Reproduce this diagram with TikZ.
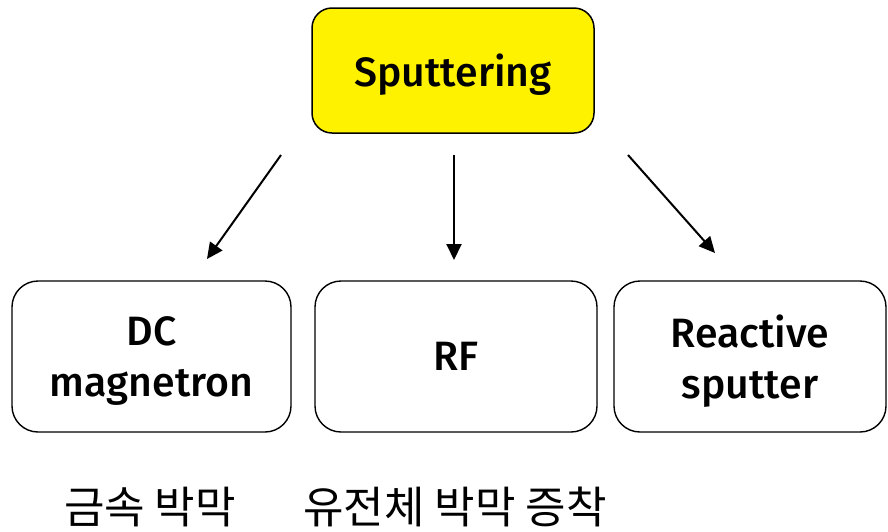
\documentclass[tikz,border=0pt]{standalone}
\usepackage{fontspec}
\setmainfont{Fira Sans}[UprightFont={* Medium}]
\newfontfamily\krfont{Noto Sans CJK KR}
\usetikzlibrary{arrows.meta}
\begin{document}
\begin{tikzpicture}[x=1pt,y=-1pt,
  topbox/.style={draw=black,line width=1.5pt,fill=yellow,rounded corners=20pt,
    minimum width=282pt,minimum height=125pt,inner sep=0pt,text depth=0pt,
    font=\fontsize{41}{48}\selectfont},
  kindbox/.style={draw=black,line width=1.4pt,fill=white,rounded corners=26pt,
    minimum height=151pt,inner sep=0pt,align=center,text depth=0pt,
    font=\fontsize{41}{51}\selectfont},
  usage/.style={font=\krfont\fontsize{44}{48}\selectfont,inner sep=0pt},
  link/.style={line width=2pt,-{Triangle[length=16pt,width=15pt]}}]
\useasboundingbox (0,0) rectangle (888,531);
% the method and its three kinds
\node[topbox] (sput) at (453,70.5) {Sputtering};
\node[kindbox,minimum width=279pt] (dc) at (151.5,356.5) {DC\\magnetron};
\node[kindbox,minimum width=282pt] (rf) at (456,356.5) {RF};
\node[kindbox,minimum width=272pt] (rs) at (750,356.5) {Reactive\\sputter};
% arrow ends, kept clear of the boxes
\coordinate (l0) at (281,155);
\coordinate (l1) at (207,259);
\coordinate (m0) at (454,155);
\coordinate (m1) at (454,260);
\coordinate (r0) at (628,155);
\coordinate (r1) at (715,253);
\draw[link] (l0) -- (l1);
\draw[link] (m0) -- (m1);
\draw[link] (r0) -- (r1);
% uses
\node[usage] (metal) at (150,507) {금속 박막};
\node[usage] (diel) at (455,507) {유전체 박막 증착};
\end{tikzpicture}
\end{document}
